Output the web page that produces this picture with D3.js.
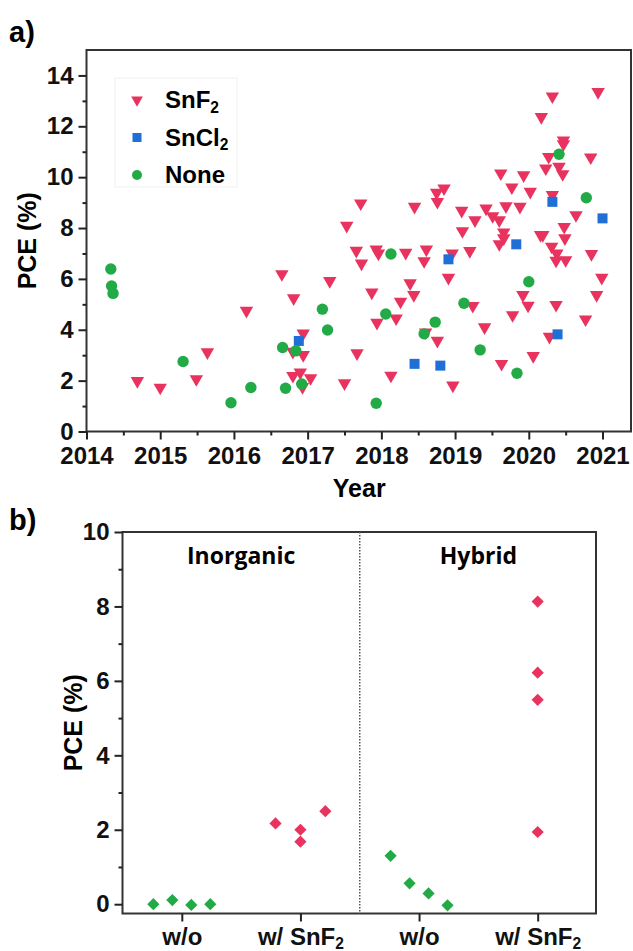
<!DOCTYPE html>
<html>
<head>
<meta charset="utf-8">
<script src="https://cdn.jsdelivr.net/npm/d3@7"></script>
<style>
  body { margin: 0; background: #fff; }
  svg { display: block; font-family: "Liberation Sans", Arial, sans-serif; font-weight: bold; }
  .axis path, .axis line { stroke: #222; stroke-width: 2; }
</style>
</head>
<body>
<svg width="633" height="951"></svg>
<script>
// ---- panel a data: year, PCE (%)
const snf2Year = [2014.69, 2015.0, 2015.49, 2015.64, 2016.17, 2016.65, 2016.81, 2016.8, 2016.94, 2016.94,
  2016.8, 2016.9, 2016.93, 2017.04, 2017.3, 2017.53, 2017.66, 2017.73, 2017.72, 2017.93,
  2017.96, 2017.67, 2017.5, 2017.87, 2017.94, 2018.13, 2018.2, 2018.26, 2018.33, 2018.39,
  2018.44, 2018.45, 2018.58, 2018.61, 2018.6, 2018.76, 2018.75, 2018.85, 2018.76, 2018.96,
  2018.91, 2018.97, 2019.24, 2019.1, 2019.09, 2019.2, 2019.27, 2019.4, 2019.42, 2019.51,
  2019.6, 2019.69, 2019.63, 2019.6, 2019.66, 2019.66, 2019.62, 2019.77, 2019.78, 2019.88,
  2019.93, 2019.92, 2019.99, 2020.02, 2020.06, 2020.16, 2020.19, 2020.17, 2020.23, 2020.27,
  2020.28, 2020.31, 2020.32, 2020.32, 2020.37, 2020.38, 2020.37, 2020.41, 2020.46, 2020.47,
  2020.47, 2020.48, 2020.49, 2020.5, 2020.64, 2020.77, 2020.84, 2020.85, 2020.92, 2020.94, 2020.99];
const snf2Pce = [1.99, 1.73, 2.06, 3.12, 4.75, 6.19, 5.24, 3.14, 3.86, 3.01,
  2.19, 2.32, 1.75, 2.1, 5.92, 8.09, 7.11, 6.61, 8.97, 7.16,
  7.0, 3.08, 1.9, 5.47, 4.28, 2.2, 4.45, 5.11, 7.03, 5.83,
  5.37, 8.84, 6.7, 7.16, 3.9, 3.57, 9.39, 9.56, 9.03, 7.0,
  6.05, 1.81, 4.94, 7.88, 8.68, 7.1, 8.31, 4.1, 8.77, 8.47,
  8.31, 8.86, 2.66, 7.37, 7.83, 7.6, 10.15, 9.6, 4.58, 8.84,
  10.08, 5.37, 4.95, 9.43, 2.97, 7.73, 7.73, 12.37, 10.35, 10.8,
  3.73, 7.27, 9.3, 13.18, 6.72, 7.0, 4.98, 10.41, 10.12, 11.45,
  11.3, 8.05, 7.6, 6.74, 8.51, 4.41, 10.78, 6.98, 5.37, 13.35, 6.05];
const sncl2Year = [2016.88, 2018.45, 2018.8, 2018.91, 2019.83, 2020.32, 2020.39, 2021.0];
const sncl2Pce = [3.56, 2.66, 2.59, 6.77, 7.36, 9.03, 3.82, 8.38];
const noneYear = [2014.33, 2014.34, 2014.36, 2015.31, 2015.96, 2016.23, 2016.66, 2016.7, 2016.84, 2016.92,
  2017.2, 2017.27, 2017.93, 2018.06, 2018.13, 2018.58, 2018.73, 2019.12, 2019.34, 2019.84,
  2020.0, 2020.41, 2020.78];
const nonePce = [6.39, 5.72, 5.43, 2.75, 1.13, 1.73, 3.3, 1.7, 3.17, 1.87,
  4.81, 3.99, 1.11, 4.62, 6.98, 3.84, 4.3, 5.04, 3.21, 2.29,
  5.89, 10.9, 9.19];
const yearTicks = [2014, 2015, 2016, 2017, 2018, 2019, 2020, 2021];
const pceTicksA = [0, 2, 4, 6, 8, 10, 12, 14];

// ---- panel b data: category position (with spread), PCE (%)
const catLabels = ["w/o", "w/ SnF2", "w/o", "w/ SnF2"];
const groupNames = ["Inorganic", "Hybrid"];
const woPos = [0.76, 0.92, 1.08, 1.24, 2.76, 2.92, 3.08, 3.24];
const woPce = [0.0, 0.11, -0.02, 0.0, 1.3, 0.56, 0.29, -0.03];
const withPos = [1.79, 2.0, 2.0, 2.21, 4, 4, 4, 4];
const withPce = [2.17, 2.0, 1.68, 2.5, 8.13, 6.22, 5.49, 1.94];
const pceTicksB = [0, 2, 4, 6, 8, 10];

const RED = "#e8335e", BLUE = "#1f6fd6", GREEN = "#22aa47";
const FONT = "'Liberation Sans', Arial, sans-serif";
const svg = d3.select("svg");

// subscript helper: "SnF2" -> SnF + small 2
function subText(sel, str) {
  sel.text(null);
  const m = str.match(/^(.*?)(\d)$/);
  if (!m) { sel.text(str); return; }
  sel.append("tspan").text(m[1]);
  sel.append("tspan").attr("dy", "0.3em").attr("font-size", "0.65em").text(m[2]);
}

function styleAxis(g) {
  g.attr("font-family", FONT).attr("font-size", 24).attr("font-weight", "bold");
  g.select(".domain").remove();
  g.selectAll(".tick text").attr("fill", "#111");
}

/////////////
// Panel a //
/////////////
const a = { left: 86.5, right: 632, top: 50, bottom: 431.5 };
const xA = d3.scaleLinear().domain([2014, 2021.4]).range([a.left, a.right]);
const yA = d3.scaleLinear().domain([0, 15]).range([a.bottom, a.top]);

svg.append("rect")
  .attr("x", a.left).attr("y", a.top)
  .attr("width", a.right - a.left - 1).attr("height", a.bottom - a.top)
  .attr("fill", "none").attr("stroke", "#333").attr("stroke-width", 2);

// minor ticks
svg.append("g").attr("class", "axis")
  .attr("transform", `translate(0,${a.bottom})`)
  .call(d3.axisBottom(xA).tickValues(d3.range(2014.5, 2021.4, 1)).tickSize(4).tickFormat(""))
  .call(styleAxis);
svg.append("g").attr("class", "axis")
  .attr("transform", `translate(${a.left},0)`)
  .call(d3.axisLeft(yA).tickValues(d3.range(1, 15, 2)).tickSize(4).tickFormat(""))
  .call(styleAxis);

svg.append("g").attr("class", "axis")
  .attr("transform", `translate(0,${a.bottom})`)
  .call(d3.axisBottom(xA).tickValues(yearTicks).tickSize(8).tickPadding(7).tickFormat(d3.format("d")))
  .call(styleAxis);

svg.append("g").attr("class", "axis")
  .attr("transform", `translate(${a.left},0)`)
  .call(d3.axisLeft(yA).tickValues(pceTicksA).tickSize(8).tickPadding(5))
  .call(styleAxis);

svg.append("text").attr("x", (a.left + a.right) / 2).attr("y", 497)
  .attr("text-anchor", "middle").attr("font-size", 25).text("Year");
svg.append("text")
  .attr("transform", `translate(36,${(a.top + a.bottom) / 2}) rotate(-90)`)
  .attr("text-anchor", "middle").attr("font-size", 25).text("PCE (%)");
svg.append("text").attr("x", 9).attr("y", 42).attr("font-size", 29).text("a)");

// markers
const ptsA = svg.append("g");
ptsA.selectAll(".tri").data(snf2Year).join("path")
  .attr("d", d3.symbol(d3.symbolTriangle, 78))
  .attr("transform", (d, i) => `translate(${xA(d)},${yA(snf2Pce[i])}) rotate(180)`)
  .attr("fill", RED);
ptsA.selectAll(".sq").data(sncl2Year).join("rect")
  .attr("x", (d) => xA(d) - 5).attr("y", (d, i) => yA(sncl2Pce[i]) - 5)
  .attr("width", 10).attr("height", 10).attr("fill", BLUE);
ptsA.selectAll(".ci").data(noneYear).join("circle")
  .attr("cx", (d) => xA(d)).attr("cy", (d, i) => yA(nonePce[i]))
  .attr("r", 5.7).attr("fill", GREEN);

// legend
const leg = svg.append("g");
leg.append("rect").attr("x", 115).attr("y", 78).attr("width", 122).attr("height", 109)
  .attr("fill", "#fff").attr("stroke", "#f0f0f0");
const legItems = [["SnF2", RED], ["SnCl2", BLUE], ["None", GREEN]];
legItems.forEach((it, i) => {
  const cy = 100 + i * 37.5;
  if (i === 0) {
    leg.append("path").attr("d", d3.symbol(d3.symbolTriangle, 60))
      .attr("transform", `translate(137,${cy}) rotate(180)`).attr("fill", it[1]);
  } else if (i === 1) {
    leg.append("rect").attr("x", 132.5).attr("y", cy - 4.5).attr("width", 9).attr("height", 9).attr("fill", it[1]);
  } else {
    leg.append("circle").attr("cx", 137).attr("cy", cy).attr("r", 5).attr("fill", it[1]);
  }
  leg.append("text").attr("x", 165).attr("y", cy + 8).attr("font-size", 24).call(subText, it[0]);
});

/////////////
// Panel b //
/////////////
const b = { left: 122.5, right: 597, top: 532, bottom: 913.5 };
const xB = d3.scaleLinear().domain([0.5, 4.5]).range([b.left, b.right]);
const yB = d3.scaleLinear().domain([-0.25, 10]).range([b.bottom, b.top]);

svg.append("rect")
  .attr("x", b.left).attr("y", b.top)
  .attr("width", b.right - b.left - 1).attr("height", b.bottom - b.top)
  .attr("fill", "none").attr("stroke", "#333").attr("stroke-width", 2);

svg.append("line")
  .attr("x1", xB(2.5)).attr("x2", xB(2.5)).attr("y1", b.top).attr("y2", b.bottom)
  .attr("stroke", "#555").attr("stroke-width", 1.5).attr("stroke-dasharray", "1.5,1.5");

svg.append("g").attr("class", "axis")
  .attr("transform", `translate(${b.left},0)`)
  .call(d3.axisLeft(yB).tickValues(d3.range(1, 10, 2)).tickSize(4).tickFormat(""))
  .call(styleAxis);
svg.append("g").attr("class", "axis")
  .attr("transform", `translate(${b.left},0)`)
  .call(d3.axisLeft(yB).tickValues(pceTicksB).tickSize(8).tickPadding(5))
  .call(styleAxis);

const gxB = svg.append("g").attr("class", "axis")
  .attr("transform", `translate(0,${b.bottom})`)
  .call(d3.axisBottom(xB).tickValues([1, 2, 3, 4]).tickSize(8).tickPadding(6))
  .call(styleAxis);
gxB.selectAll(".tick text").each(function (d) {
  d3.select(this).call(subText, catLabels[d - 1]);
});

svg.append("text")
  .attr("transform", `translate(82,${(b.top + b.bottom) / 2}) rotate(-90)`)
  .attr("text-anchor", "middle").attr("font-size", 25).text("PCE (%)");
svg.append("text").attr("x", 9).attr("y", 530).attr("font-size", 29).text("b)");

svg.selectAll(".grp").data(groupNames).join("text")
  .attr("x", (d, i) => xB(1.5 + i * 2)).attr("y", 564)
  .attr("text-anchor", "middle").attr("font-size", 23)
  .attr("font-family", "'Open Sans', sans-serif").text((d) => d);

const diamond = d3.symbol(d3.symbolDiamond2, 95);
svg.append("g").selectAll("path").data(woPos).join("path")
  .attr("d", diamond)
  .attr("transform", (d, i) => `translate(${xB(d)},${yB(woPce[i])})`)
  .attr("fill", GREEN);
svg.append("g").selectAll("path").data(withPos).join("path")
  .attr("d", diamond)
  .attr("transform", (d, i) => `translate(${xB(d)},${yB(withPce[i])})`)
  .attr("fill", RED);
</script>
</body>
</html>
